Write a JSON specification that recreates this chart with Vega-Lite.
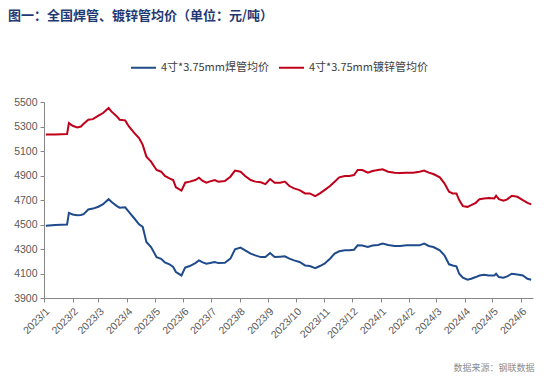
{
  "$schema": "https://vega.github.io/schema/vega-lite/v6.json",
  "autosize": "none",
  "width": 489,
  "height": 196,
  "padding": {"left": 44, "top": 102, "right": 21, "bottom": 81},
  "background": "white",
  "title": {
    "text": "图一：全国焊管、镀锌管均价（单位：元/吨）",
    "anchor": "start",
    "frame": "group",
    "dx": -36,
    "offset": 31,
    "font": "Noto Sans CJK SC",
    "fontSize": 13,
    "fontWeight": "bold",
    "color": "#1F3A73"
  },
  "config": {
    "view": {"stroke": null},
    "font": "Liberation Sans"
  },
  "data": {
    "values": [
      {"date": "2023/01/03", "weld": 4490, "galv": 5235},
      {"date": "2023/01/13", "weld": 4495, "galv": 5235},
      {"date": "2023/01/26", "weld": 4500, "galv": 5238},
      {"date": "2023/01/28", "weld": 4595, "galv": 5328},
      {"date": "2023/02/01", "weld": 4582, "galv": 5306},
      {"date": "2023/02/06", "weld": 4575, "galv": 5292},
      {"date": "2023/02/10", "weld": 4578, "galv": 5300},
      {"date": "2023/02/13", "weld": 4585, "galv": 5322},
      {"date": "2023/02/18", "weld": 4623, "galv": 5355},
      {"date": "2023/02/23", "weld": 4630, "galv": 5360},
      {"date": "2023/03/01", "weld": 4645, "galv": 5388},
      {"date": "2023/03/06", "weld": 4666, "galv": 5410},
      {"date": "2023/03/12", "weld": 4707, "galv": 5451},
      {"date": "2023/03/15", "weld": 4685, "galv": 5423},
      {"date": "2023/03/21", "weld": 4650, "galv": 5382},
      {"date": "2023/03/24", "weld": 4637, "galv": 5355},
      {"date": "2023/03/30", "weld": 4640, "galv": 5350},
      {"date": "2023/04/03", "weld": 4603, "galv": 5300},
      {"date": "2023/04/09", "weld": 4549, "galv": 5246},
      {"date": "2023/04/14", "weld": 4502, "galv": 5205},
      {"date": "2023/04/18", "weld": 4480, "galv": 5150},
      {"date": "2023/04/22", "weld": 4357, "galv": 5054},
      {"date": "2023/04/27", "weld": 4316, "galv": 5013},
      {"date": "2023/05/03", "weld": 4234, "galv": 4945},
      {"date": "2023/05/08", "weld": 4220, "galv": 4931},
      {"date": "2023/05/12", "weld": 4190, "galv": 4896},
      {"date": "2023/05/17", "weld": 4175, "galv": 4877},
      {"date": "2023/05/21", "weld": 4153, "galv": 4863},
      {"date": "2023/05/24", "weld": 4112, "galv": 4803},
      {"date": "2023/05/30", "weld": 4084, "galv": 4776},
      {"date": "2023/06/03", "weld": 4148, "galv": 4841},
      {"date": "2023/06/08", "weld": 4161, "galv": 4850},
      {"date": "2023/06/14", "weld": 4185, "galv": 4863},
      {"date": "2023/06/18", "weld": 4207, "galv": 4882},
      {"date": "2023/06/22", "weld": 4191, "galv": 4855},
      {"date": "2023/06/26", "weld": 4180, "galv": 4841},
      {"date": "2023/06/30", "weld": 4185, "galv": 4852},
      {"date": "2023/07/05", "weld": 4194, "galv": 4863},
      {"date": "2023/07/09", "weld": 4185, "galv": 4850},
      {"date": "2023/07/16", "weld": 4188, "galv": 4855},
      {"date": "2023/07/22", "weld": 4221, "galv": 4890},
      {"date": "2023/07/27", "weld": 4297, "galv": 4940},
      {"date": "2023/08/02", "weld": 4311, "galv": 4931},
      {"date": "2023/08/07", "weld": 4289, "galv": 4896},
      {"date": "2023/08/13", "weld": 4262, "galv": 4863},
      {"date": "2023/08/18", "weld": 4248, "galv": 4850},
      {"date": "2023/08/24", "weld": 4234, "galv": 4845},
      {"date": "2023/08/29", "weld": 4234, "galv": 4830},
      {"date": "2023/09/03", "weld": 4267, "galv": 4871},
      {"date": "2023/09/08", "weld": 4234, "galv": 4841},
      {"date": "2023/09/14", "weld": 4237, "galv": 4841},
      {"date": "2023/09/19", "weld": 4240, "galv": 4850},
      {"date": "2023/09/24", "weld": 4221, "galv": 4814},
      {"date": "2023/09/29", "weld": 4207, "galv": 4795},
      {"date": "2023/10/05", "weld": 4194, "galv": 4781},
      {"date": "2023/10/11", "weld": 4166, "galv": 4754},
      {"date": "2023/10/16", "weld": 4161, "galv": 4754},
      {"date": "2023/10/22", "weld": 4144, "galv": 4732},
      {"date": "2023/10/27", "weld": 4161, "galv": 4754},
      {"date": "2023/11/01", "weld": 4180, "galv": 4781},
      {"date": "2023/11/07", "weld": 4221, "galv": 4814},
      {"date": "2023/11/12", "weld": 4262, "galv": 4849},
      {"date": "2023/11/17", "weld": 4281, "galv": 4885},
      {"date": "2023/11/23", "weld": 4289, "galv": 4896},
      {"date": "2023/11/28", "weld": 4289, "galv": 4896},
      {"date": "2023/12/03", "weld": 4294, "galv": 4904},
      {"date": "2023/12/07", "weld": 4330, "galv": 4945},
      {"date": "2023/12/12", "weld": 4328, "galv": 4945},
      {"date": "2023/12/18", "weld": 4316, "galv": 4923},
      {"date": "2023/12/23", "weld": 4328, "galv": 4937},
      {"date": "2023/12/29", "weld": 4333, "galv": 4945},
      {"date": "2024/01/03", "weld": 4344, "galv": 4951},
      {"date": "2024/01/09", "weld": 4333, "galv": 4931},
      {"date": "2024/01/16", "weld": 4325, "galv": 4923},
      {"date": "2024/01/22", "weld": 4325, "galv": 4920},
      {"date": "2024/01/29", "weld": 4330, "galv": 4923},
      {"date": "2024/02/05", "weld": 4330, "galv": 4923},
      {"date": "2024/02/12", "weld": 4330, "galv": 4931},
      {"date": "2024/02/17", "weld": 4344, "galv": 4940},
      {"date": "2024/02/22", "weld": 4325, "galv": 4923},
      {"date": "2024/02/27", "weld": 4316, "galv": 4912},
      {"date": "2024/03/05", "weld": 4289, "galv": 4885},
      {"date": "2024/03/10", "weld": 4248, "galv": 4836},
      {"date": "2024/03/15", "weld": 4175, "galv": 4767},
      {"date": "2024/03/19", "weld": 4166, "galv": 4754},
      {"date": "2024/03/23", "weld": 4158, "galv": 4754},
      {"date": "2024/03/26", "weld": 4098, "galv": 4699},
      {"date": "2024/03/30", "weld": 4065, "galv": 4650},
      {"date": "2024/04/04", "weld": 4049, "galv": 4644},
      {"date": "2024/04/08", "weld": 4057, "galv": 4658},
      {"date": "2024/04/13", "weld": 4071, "galv": 4677},
      {"date": "2024/04/17", "weld": 4084, "galv": 4707},
      {"date": "2024/04/22", "weld": 4090, "galv": 4712},
      {"date": "2024/04/27", "weld": 4084, "galv": 4717},
      {"date": "2024/05/03", "weld": 4084, "galv": 4712},
      {"date": "2024/05/05", "weld": 4098, "galv": 4735},
      {"date": "2024/05/08", "weld": 4071, "galv": 4707},
      {"date": "2024/05/13", "weld": 4065, "galv": 4694},
      {"date": "2024/05/17", "weld": 4076, "galv": 4705},
      {"date": "2024/05/22", "weld": 4098, "galv": 4735},
      {"date": "2024/05/28", "weld": 4092, "galv": 4726},
      {"date": "2024/06/03", "weld": 4084, "galv": 4699},
      {"date": "2024/06/08", "weld": 4057, "galv": 4677},
      {"date": "2024/06/12", "weld": 4049, "galv": 4664}
    ]
  },
  "transform": [
    {"fold": ["weld", "galv"], "as": ["series", "price"]}
  ],
  "mark": {"type": "line", "strokeWidth": 2, "interpolate": "linear"},
  "encoding": {
    "x": {
      "field": "date",
      "type": "temporal",
      "scale": {"domain": [{"year": 2023, "month": 1, "date": 1}, {"year": 2024, "month": 6, "date": 14}]},
      "axis": {
        "title": "数据来源：钢联数据",
        "titleFont": "Noto Sans CJK SC",
        "titleFontSize": 9,
        "titleFontWeight": "normal",
        "titleColor": "#8C8C8C",
        "titleAnchor": "end",
        "titleAlign": "right",
        "titleX": 490,
        "titleY": 69,
        "titleBaseline": "middle",
        "tickCount": {"interval": "month", "step": 1},
        "format": "%Y/%-m",
        "labelAngle": -45,
        "labelAlign": "right",
        "labelBaseline": "top",
        "labelFontSize": 10.5,
        "labelColor": "#595959",
        "labelPadding": 4,
        "labelOverlap": false,
        "grid": false,
        "domainColor": "#868686",
        "tickColor": "#868686",
        "tickSize": 4
      }
    },
    "y": {
      "field": "price",
      "type": "quantitative",
      "scale": {"domain": [3900, 5500], "zero": false, "nice": false},
      "axis": {
        "title": null,
        "format": "d",
        "values": [3900, 4100, 4300, 4500, 4700, 4900, 5100, 5300, 5500],
        "labelFontSize": 10.5,
        "labelColor": "#595959",
        "grid": false,
        "domainColor": "#868686",
        "tickColor": "#868686",
        "tickSize": 4,
        "labelPadding": 3
      }
    },
    "color": {
      "field": "series",
      "type": "nominal",
      "scale": {"domain": ["weld", "galv"], "range": ["#1F4A8C", "#C0001A"]},
      "legend": {
        "title": null,
        "orient": "none",
        "direction": "horizontal",
        "legendX": 86,
        "legendY": -48,
        "symbolType": "stroke",
        "symbolSize": 625,
        "symbolStrokeWidth": 2,
        "labelFont": "Noto Sans CJK SC",
        "labelFontSize": 11,
        "labelColor": "#404040",
        "columnPadding": 6,
        "labelExpr": "datum.label == 'weld' ? '4寸*3.75mm焊管均价' : '4寸*3.75mm镀锌管均价'"
      }
    }
  }
}
